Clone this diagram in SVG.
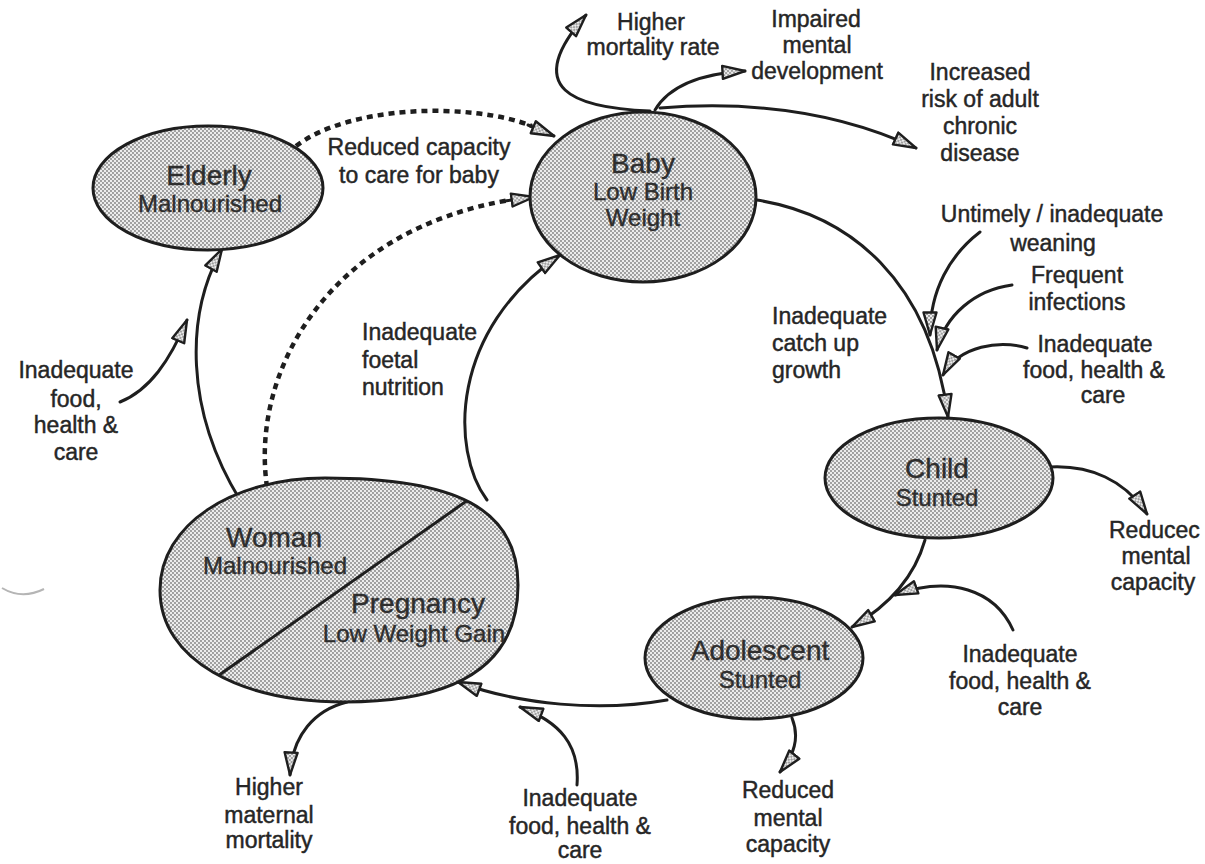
<svg xmlns="http://www.w3.org/2000/svg" width="1205" height="864" viewBox="0 0 1205 864">
<defs>
<pattern id="dots" width="4" height="4" patternUnits="userSpaceOnUse">
<rect width="4" height="4" fill="#ececec"/>
<circle cx="1" cy="1" r="0.9" fill="#7c7c7c"/>
<circle cx="3" cy="3" r="0.9" fill="#7c7c7c"/>
</pattern>
<marker id="ah" viewBox="0 0 26 16" refX="24" refY="8" markerWidth="26" markerHeight="16" markerUnits="userSpaceOnUse" orient="auto">
<path d="M1.5,1.5 L24,8 L1.5,14.5 Z" fill="url(#dots)" stroke="#1e1e1e" stroke-width="2.4" stroke-linejoin="round"/>
</marker>
<path id="womanShape" d="M160,590 C160,525 232,478 325,478 C455,478 518,508 518,585 C518,662 462,702 345,702 C240,702 160,660 160,590 Z"/>
<clipPath id="womanClip">
<use href="#womanShape"/>
</clipPath>
<style>
.node { fill: url(#dots); stroke: #1e1e1e; stroke-width: 3; }
.ttl { font-family: "Liberation Sans", Arial, sans-serif; font-size: 28px; fill: #2e2e2e; stroke: #2e2e2e; stroke-width: 0.4; text-anchor: middle; }
.sub { font-family: "Liberation Sans", Arial, sans-serif; font-size: 24px; fill: #2e2e2e; stroke: #2e2e2e; stroke-width: 0.4; text-anchor: middle; }
.lbl { font-family: "Liberation Sans", Arial, sans-serif; font-size: 23px; fill: #262626; stroke: #262626; stroke-width: 0.45; text-anchor: middle; }
.lbl.l { text-anchor: start; }
.c { fill: none; stroke: #1e1e1e; stroke-width: 3; stroke-linecap: round; }
.arr { marker-end: url(#ah); }
.dot { fill: none; stroke: #1e1e1e; stroke-width: 4.5; stroke-dasharray: 6 5; }
</style>
</defs>
<rect width="1205" height="864" fill="#ffffff"/>

<g id="connectors">
<path class="c arr" d="M240,500 C185,410 185,315 222,249"/>
<path class="c arr" d="M120,402 C150,390 170,360 187,320"/>
<path class="dot" d="M267,487 C250,370 330,230 510,200"/>
<path class="c arr" d="M505,201 L534,197" stroke-width="1"/>
<path class="dot" d="M296,146 C350,105 470,102 532,126"/>
<path class="c arr" d="M528,125 L554,136" stroke-width="1"/>
<path class="c arr" d="M487,500 C450,450 450,330 560,255"/>
<path class="c arr" d="M757,200 C850,215 930,280 948,417"/>
<path class="c arr" d="M980,232 C950,255 930,290 930,335"/>
<path class="c arr" d="M1012,285 C975,290 945,315 937,350"/>
<path class="c arr" d="M1027,348 C1000,340 960,345 943,375"/>
<path class="c arr" d="M1050,467 C1090,465 1125,480 1147,514"/>
<path class="c arr" d="M925,540 C915,575 890,605 852,627"/>
<path class="c arr" d="M1013,630 C995,590 950,575 895,595"/>
<path class="c arr" d="M667,700 C600,712 520,705 458,682"/>
<path class="c arr" d="M577,785 C580,745 560,722 520,707"/>
<path class="c arr" d="M347,702 C315,710 292,735 290,775"/>
<path class="c arr" d="M792,718 C800,738 794,755 780,772"/>
<path class="c arr" d="M650,111 C575,108 520,90 586,15"/>
<path class="c arr" d="M655,110 C668,88 695,74 745,71"/>
<path class="c arr" d="M660,108 C760,100 845,115 916,148"/>
<path d="M2,588 Q22,600 44,589" fill="none" stroke="#b5b5b5" stroke-width="2"/>
</g>

<g id="elderly">
<ellipse class="node" cx="208" cy="188" rx="115" ry="62"/>
<text class="ttl" x="209" y="185">Elderly</text>
<text class="sub" x="210" y="212">Malnourished</text>
</g>

<g id="baby">
<ellipse class="node" cx="643" cy="197" rx="113" ry="85"/>
<text class="ttl" x="643" y="173">Baby</text>
<text class="sub" x="643" y="200">Low Birth</text>
<text class="sub" x="643" y="226">Weight</text>
</g>

<g id="child">
<ellipse class="node" cx="939" cy="478" rx="114" ry="60"/>
<text class="ttl" x="937" y="478">Child</text>
<text class="sub" x="937" y="506">Stunted</text>
</g>

<g id="adolescent">
<ellipse class="node" cx="754" cy="658" rx="109" ry="61"/>
<text class="ttl" x="760" y="660">Adolescent</text>
<text class="sub" x="760" y="688">Stunted</text>
</g>

<g id="woman">
<use href="#womanShape" class="node"/>
<line x1="495" y1="481" x2="195" y2="692" stroke="#1e1e1e" stroke-width="3" clip-path="url(#womanClip)"/>
<text class="ttl" x="274" y="547">Woman</text>
<text class="sub" x="275" y="574">Malnourished</text>
<text class="ttl" x="418" y="613">Pregnancy</text>
<text class="sub" x="414" y="642" font-size="23">Low Weight Gain</text>
</g>

<g id="labels">
<text class="lbl" x="651" y="30">Higher</text>
<text class="lbl" x="653" y="55">mortality rate</text>
<text class="lbl" x="816" y="27">Impaired</text>
<text class="lbl" x="817" y="53">mental</text>
<text class="lbl" x="817" y="79">development</text>
<text class="lbl" x="980" y="80">Increased</text>
<text class="lbl" x="980" y="107">risk of adult</text>
<text class="lbl" x="980" y="134">chronic</text>
<text class="lbl" x="980" y="161">disease</text>
<text class="lbl" x="419" y="155">Reduced capacity</text>
<text class="lbl" x="419" y="183">to care for baby</text>
<text class="lbl l" x="362" y="340">Inadequate</text>
<text class="lbl l" x="362" y="368">foetal</text>
<text class="lbl l" x="362" y="395">nutrition</text>
<text class="lbl l" x="772" y="324">Inadequate</text>
<text class="lbl l" x="772" y="351">catch up</text>
<text class="lbl l" x="772" y="378">growth</text>
<text class="lbl" x="1052" y="222">Untimely / inadequate</text>
<text class="lbl" x="1053" y="251">weaning</text>
<text class="lbl" x="1077" y="283">Frequent</text>
<text class="lbl" x="1077" y="310">infections</text>
<text class="lbl" x="1095" y="352">Inadequate</text>
<text class="lbl" x="1094" y="378">food, health &amp;</text>
<text class="lbl" x="1103" y="403">care</text>
<text class="lbl l" x="1109" y="538">Reducec</text>
<text class="lbl" x="1156" y="564">mental</text>
<text class="lbl" x="1153" y="590">capacity</text>
<text class="lbl" x="1020" y="662">Inadequate</text>
<text class="lbl" x="1020" y="689">food, health &amp;</text>
<text class="lbl" x="1020" y="715">care</text>
<text class="lbl" x="788" y="798">Reduced</text>
<text class="lbl" x="788" y="826">mental</text>
<text class="lbl" x="788" y="852">capacity</text>
<text class="lbl" x="580" y="806">Inadequate</text>
<text class="lbl" x="580" y="834">food, health &amp;</text>
<text class="lbl" x="580" y="858">care</text>
<text class="lbl" x="269" y="795">Higher</text>
<text class="lbl" x="269" y="823">maternal</text>
<text class="lbl" x="269" y="848">mortality</text>
<text class="lbl" x="76" y="378">Inadequate</text>
<text class="lbl" x="76" y="407">food,</text>
<text class="lbl" x="76" y="433">health &amp;</text>
<text class="lbl" x="76" y="460">care</text>
</g>
</svg>
